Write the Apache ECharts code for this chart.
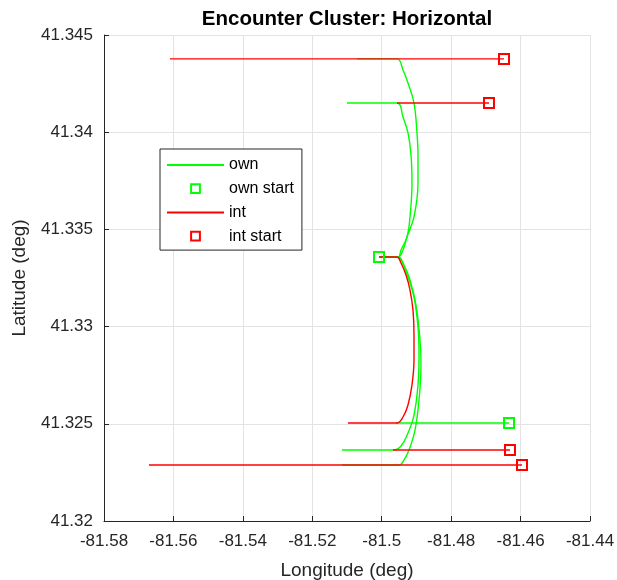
<!DOCTYPE html>
<html>
<head>
<meta charset="utf-8">
<title>Encounter Cluster: Horizontal</title>
<script src="https://cdn.jsdelivr.net/npm/echarts@6/dist/echarts.min.js"></script>
<style>
  html, body { margin: 0; padding: 0; background: #fff; }
  #chart { width: 617px; height: 580px; }
</style>
</head>
<body>
<div id="chart"></div>
<script>
// Axis ranges and tick spacing
const lonTicks = { min: -81.58, max: -81.44, step: 0.02 };
const latTicks = { min: 41.32, max: 41.345, step: 0.005 };

// Ownship trajectories, [longitude, latitude]
const own1 = [[-81.50078, 41.33358], [-81.49531, 41.33358], [-81.49387, 41.33394], [-81.49272, 41.33461],
  [-81.49070, 41.33564], [-81.48955, 41.33739], [-81.48955, 41.33883], [-81.48984, 41.33996],
  [-81.49070, 41.34150], [-81.49243, 41.34253], [-81.49387, 41.34320], [-81.49560, 41.34377],
  [-81.50712, 41.34377]];
const own2 = [[-81.50078, 41.33358], [-81.49531, 41.33358], [-81.49444, 41.33394], [-81.49272, 41.33461],
  [-81.49185, 41.33564], [-81.49128, 41.33739], [-81.49156, 41.33883], [-81.49243, 41.33996],
  [-81.49387, 41.34078], [-81.49560, 41.34150], [-81.51000, 41.34150]];
const own3 = [[-81.50078, 41.33358], [-81.49531, 41.33358], [-81.49387, 41.33322], [-81.49243, 41.33255],
  [-81.49070, 41.33152], [-81.48955, 41.32998], [-81.48926, 41.32854], [-81.48955, 41.32700],
  [-81.49070, 41.32545], [-81.49243, 41.32453], [-81.49444, 41.32386], [-81.49675, 41.32365],
  [-81.51144, 41.32365]];
const own4 = [[-81.50078, 41.33358], [-81.49531, 41.33358], [-81.49358, 41.33317], [-81.49185, 41.33240],
  [-81.49012, 41.33111], [-81.48897, 41.32931], [-81.48868, 41.32802], [-81.48926, 41.32622],
  [-81.49041, 41.32468], [-81.49214, 41.32365], [-81.49358, 41.32314], [-81.49502, 41.32288],
  [-81.51144, 41.32288]];
const own5 = [[-81.46333, 41.32504], [-81.49590, 41.32504]];

// Intruder trajectories, [longitude, latitude]
const int1 = [[-81.46477, 41.34377], [-81.56099, 41.34377]];
const int2 = [[-81.46910, 41.34150], [-81.49560, 41.34150]];
const int3 = [[-81.50078, 41.33358], [-81.49560, 41.33358], [-81.49444, 41.33327], [-81.49300, 41.33265],
  [-81.49185, 41.33188], [-81.49099, 41.33085], [-81.49070, 41.32957], [-81.49070, 41.32828],
  [-81.49128, 41.32700], [-81.49243, 41.32597], [-81.49387, 41.32535], [-81.49560, 41.32504],
  [-81.50971, 41.32504]];
const int4 = [[-81.46305, 41.32365], [-81.49675, 41.32365]];
const int5 = [[-81.45959, 41.32288], [-81.56704, 41.32288]];

// Start points
const ownStarts = [[-81.50078, 41.33358], [-81.46333, 41.32504]];
const intStarts = [[-81.46477, 41.34377], [-81.46910, 41.34150], [-81.46305, 41.32365], [-81.45959, 41.32288]];

const GREEN = '#00ff00';
const RED = '#ff0000';
const AXIS = '#262626';
const FONT = 'Liberation Sans, Arial, Helvetica, sans-serif';

function trackSeries(name, color, data) {
  return {
    name: name, type: 'line', data: data, color: color,
    symbol: 'none', smooth: 0.4, silent: true,
    lineStyle: { color: color, width: 1.4 }
  };
}
function startSeries(name, color, data) {
  return {
    name: name, type: 'line', data: data,
    symbol: 'rect', symbolSize: 10, showSymbol: true, silent: true,
    color: color,
    lineStyle: { opacity: 0, width: 0 },
    itemStyle: { color: 'rgba(0,0,0,0)', borderColor: color, borderWidth: 2 }
  };
}
function trimNum(v) { return String(parseFloat(v.toFixed(4))); }

const series = [];
[own1, own2, own3, own4, own5].forEach(d => series.push(trackSeries('own', GREEN, d)));
[int1, int2, int3, int4, int5].forEach(d => series.push(trackSeries('int', RED, d)));
series.push(startSeries('int start', RED, intStarts));
series.push(startSeries('own start', GREEN, ownStarts));

const chart = echarts.init(document.getElementById('chart'), null, { renderer: 'canvas' });
chart.setOption({
  backgroundColor: '#ffffff',
  animation: false,
  title: {
    text: 'Encounter Cluster: Horizontal',
    left: 342, top: 4, textAlign: 'center',
    textStyle: { fontFamily: FONT, fontSize: 20.5, fontWeight: 'bold', color: '#000' }
  },
  grid: { left: 104, right: 27, top: 35, bottom: 59, containLabel: false, outerBoundsMode: 'none' },
  legend: {
    data: [
      { name: 'own', itemStyle: { opacity: 0 } },
      { name: 'own start' },
      { name: 'int', itemStyle: { opacity: 0 } },
      { name: 'int start' }
    ],
    orient: 'vertical', left: 160, top: 149,
    itemWidth: 57, itemHeight: 11, itemGap: 5.7,
    padding: [7, 8, 5, 6],
    backgroundColor: '#ffffff', borderColor: AXIS, borderWidth: 1, borderRadius: 0,
    selectedMode: false,
    textStyle: { fontFamily: FONT, fontSize: 16, color: '#000', lineHeight: 18 }
  },
  xAxis: {
    type: 'value', min: lonTicks.min, max: lonTicks.max, interval: lonTicks.step,
    name: 'Longitude (deg)', nameLocation: 'middle', nameGap: 40,
    nameTextStyle: { fontFamily: FONT, fontSize: 19, color: '#262626' },
    axisLine: { show: true, onZero: false, lineStyle: { color: AXIS, width: 1 } },
    axisTick: { show: true, inside: true, length: 5, lineStyle: { color: AXIS } },
    axisLabel: { fontFamily: FONT, fontSize: 17, color: '#262626', margin: 12, formatter: trimNum },
    splitLine: { show: true, lineStyle: { color: '#e3e3e3', width: 1 } }
  },
  yAxis: {
    type: 'value', min: latTicks.min, max: latTicks.max, interval: latTicks.step,
    name: 'Latitude (deg)', nameLocation: 'middle', nameGap: 75,
    nameTextStyle: { fontFamily: FONT, fontSize: 19, color: '#262626' },
    axisLine: { show: true, onZero: false, lineStyle: { color: AXIS, width: 1 } },
    axisTick: { show: true, inside: true, length: 5, lineStyle: { color: AXIS } },
    axisLabel: { fontFamily: FONT, fontSize: 17, color: '#262626', margin: 11, formatter: trimNum },
    splitLine: { show: true, lineStyle: { color: '#e3e3e3', width: 1 } }
  },
  series: series
});
</script>
</body>
</html>
